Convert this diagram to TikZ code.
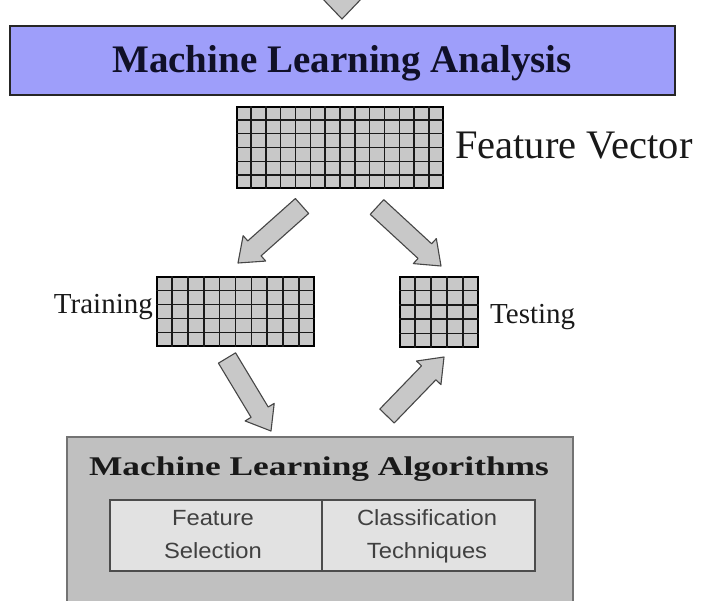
\documentclass[tikz,border=0pt]{standalone}
\usepackage{fontspec}
\setmainfont{Liberation Serif}
\newfontfamily\arialfont{Liberation Sans}
\usetikzlibrary{calc}

\definecolor{bannerblue}{RGB}{158,158,250}
\definecolor{bannerink}{RGB}{16,16,40}
\definecolor{gridfill}{RGB}{200,200,200}
\definecolor{arrowfill}{RGB}{200,200,200}
\definecolor{arrowline}{RGB}{70,70,70}
\definecolor{algofill}{RGB}{192,192,192}
\definecolor{cellfill}{RGB}{226,226,226}

\tikzset{
  gridbox/.style={draw=black, line width=1.6pt, fill=gridfill, inner sep=0pt},
  gridline/.style={draw=black!90, line width=1.5pt},
  blockarrowstyle/.style={fill=arrowfill, draw=arrowline, line width=1.1pt, line join=round},
  lbl/.style={inner sep=0pt, text=black!90},
  celltext/.style={inner sep=0pt, text=black!75, font=\arialfont\fontsize{22}{26}\selectfont},
}

% grid lines inside a grid node: #1 name, #2 columns, #3 rows
\newcommand\gridlines[3]{%
  \pgfmathtruncatemacro\gcols{#2-1}%
  \pgfmathtruncatemacro\grows{#3-1}%
  \foreach \i in {1,...,\gcols}
    \draw[gridline] ($(#1.north west)!{\i/#2}!(#1.north east)$) -- ($(#1.south west)!{\i/#2}!(#1.south east)$);
  \foreach \j in {1,...,\grows}
    \draw[gridline] ($(#1.north west)!{\j/#3}!(#1.south west)$) -- ($(#1.north east)!{\j/#3}!(#1.south east)$);
}

% block arrow from coordinate #1 (tail) to coordinate #2 (tip); #3 half head width
\newcommand\blockarrow[3]{%
  \coordinate (bah) at ($(#2)!22pt!(#1)$);
  \draw[blockarrowstyle]
    ($(#1)!10pt!90:(#2)$) -- ($(bah)!10pt!90:(#2)$) -- ($(bah)!#3!90:(#2)$)
    -- (#2)
    -- ($(bah)!#3!-90:(#2)$) -- ($(bah)!10pt!-90:(#2)$) -- ($(#1)!10pt!-90:(#2)$) -- cycle;
}

\begin{document}
\begin{tikzpicture}[x=1pt, y=-1pt]
\useasboundingbox (0,0) rectangle (706,600);

% incoming arrow at the top
\coordinate (inTail) at (342,-45);
\coordinate (inTip) at (342,19);
\blockarrow{inTail}{inTip}{21pt}

% analysis banner
\node[draw=black!85, line width=1.3pt, fill=bannerblue, minimum width=665pt, minimum height=69pt, inner sep=0pt]
  (banner) at (342.5,60.5) {};
\node[lbl, anchor=base, text=bannerink, font=\bfseries\fontsize{39}{46}\selectfont]
  (bannertext) at (342,72) {Machine Learning Analysis};

% feature vector grid
\node[gridbox, minimum width=206pt, minimum height=81pt] (fv) at (340,147.5) {};
\gridlines{fv}{14}{6}
\node[lbl, anchor=base west, font=\fontsize{40.5}{48}\selectfont] (fvtext) at (455,158) {Feature Vector};

% training and testing grids
\node[gridbox, minimum width=157pt, minimum height=69pt] (train) at (235.5,311.5) {};
\gridlines{train}{10}{5}
\node[lbl, anchor=base east, font=\fontsize{29}{34}\selectfont] (traintext) at (153,313) {Training};

\node[gridbox, minimum width=78pt, minimum height=70pt] (test) at (439,312) {};
\gridlines{test}{5}{5}
\node[lbl, anchor=base west, font=\fontsize{29}{34}\selectfont] (testtext) at (490,323) {Testing};

% split arrows
\coordinate (splitLTail) at (302,206);
\coordinate (splitLTip) at (238,263);
\blockarrow{splitLTail}{splitLTip}{17pt}
\coordinate (splitRTail) at (377,207);
\coordinate (splitRTip) at (441,266);
\blockarrow{splitRTail}{splitRTip}{17pt}

% algorithm box
\draw[draw=black!55, line width=1.6pt, fill=algofill] (67,437) rectangle (573,606);
\node[lbl, anchor=base, text=black!90, font=\bfseries\fontsize{27}{32}\selectfont]
  (algotext) at (319,475) {\scalebox{1.31}[1]{Machine Learning Algorithms}};

\node[draw=black!70, line width=1.3pt, fill=cellfill, minimum width=212pt, minimum height=71pt, inner sep=0pt]
  (cellL) at (216,535.5) {};
\node[draw=black!70, line width=1.3pt, fill=cellfill, minimum width=213pt, minimum height=71pt, inner sep=0pt]
  (cellR) at (428.5,535.5) {};
\node[celltext, anchor=base] (fs1) at (213,525) {\scalebox{1.08}[1]{Feature}};
\node[celltext, anchor=base] (fs2) at (213,558) {\scalebox{1.08}[1]{Selection}};
\node[celltext, anchor=base] (ct1) at (427,525) {\scalebox{1.08}[1]{Classification}};
\node[celltext, anchor=base] (ct2) at (427,558) {\scalebox{1.08}[1]{Techniques}};

% arrows to and from the algorithm box
\coordinate (trainTail) at (227,358);
\coordinate (trainTip) at (271,431);
\blockarrow{trainTail}{trainTip}{17pt}
\coordinate (testTail) at (387,416);
\coordinate (testTip) at (444,357);
\blockarrow{testTail}{testTip}{17pt}
\end{tikzpicture}
\end{document}
